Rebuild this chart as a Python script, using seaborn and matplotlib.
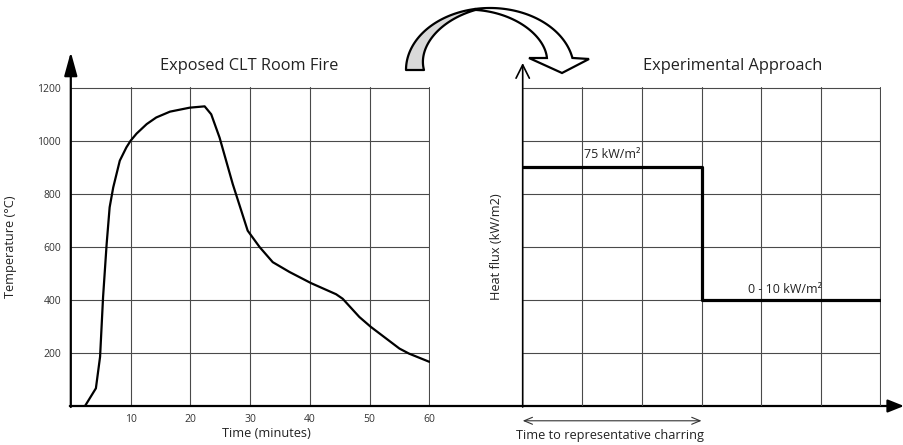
import numpy as np
import pandas as pd
import matplotlib
matplotlib.use("Agg")
import matplotlib.pyplot as plt
from matplotlib.patches import Polygon
import seaborn as sns

# ---------------- data ----------------
time_min = [2.4, 4.2, 4.9, 5.4, 6.0, 6.5, 7.1, 8.2, 9.3, 10.0, 11.0, 12.7, 14.3,
            16.6, 19.9, 22.4, 23.5, 24.9, 27.1, 29.6, 31.6, 33.8, 36.6, 40.2,
            44.4, 45.5, 48.3, 50.2, 55.0, 56.6, 60.0]
temp_c = [0, 66, 185, 410, 611, 749, 824, 925, 975, 1000, 1027, 1063, 1088,
          1110, 1125, 1130, 1100, 1012, 837, 661, 599, 542, 505, 463,
          421, 404, 335, 298, 216, 197, 166]

left_xticks = [10, 20, 30, 40, 50, 60]
left_yticks = [200, 400, 600, 800, 1000, 1200]

step_x = [0, 3, 6]          # grid units (time to charring, then after)
step_y = [4.5, 2.0, 2.0]    # grid units (heat flux level)
grid_units = [1, 2, 3, 4, 5, 6]

high_label = "75 kW/m²"
low_label = "0 - 10 kW/m²"

left_title = "Exposed CLT Room Fire"
right_title = "Experimental Approach"
left_xlabel = "Time (minutes)"
left_ylabel = "Temperature (°C)"
right_ylabel = "Heat flux (kW/m2)"
right_xnote = "Time to representative charring"

# ---------------- style ----------------
sns.set_theme(style="white")
plt.rcParams["font.family"] = ["Open Sans", "DejaVu Sans"]

W, H = 904, 445
fig = plt.figure(figsize=(W / 100, H / 100), dpi=100)

def frac(x0, y0, x1, y1):
    return [x0 / W, 1 - y1 / H, (x1 - x0) / W, (y1 - y0) / H]

axL = fig.add_axes(frac(70.8, 87, 430.2, 405.8))
axR = fig.add_axes(frac(522.7, 87, 881.2, 405.8))

grid_kw = dict(color="#4a4a4a", linewidth=0.8)

# ---- left panel ----
df = pd.DataFrame({"time": time_min, "temp": temp_c})
sns.lineplot(data=df, x="time", y="temp", ax=axL, color="black", linewidth=1.6,
             estimator=None, sort=False, zorder=3)
axL.set_xlim(0, 60.15)
axL.set_ylim(0, 1203)
axL.set_xticks(left_xticks)
axL.set_yticks(left_yticks)
axL.set_xticklabels([str(v) for v in left_xticks])
axL.set_yticklabels([str(v) for v in left_yticks])
axL.grid(True, **grid_kw)
axL.tick_params(axis="both", length=0, labelsize=7.5, labelcolor="#333333")
axL.tick_params(axis="y", pad=7)
axL.tick_params(axis="x", pad=6)
for s in axL.spines.values():
    s.set_visible(False)
axL.set_xlabel(left_xlabel, fontsize=9.2, color="#222222", labelpad=1)
axL.xaxis.set_label_coords(0.545, -0.065)
axL.set_ylabel(left_ylabel, fontsize=9.2, color="#222222")
axL.yaxis.set_label_coords(-0.15, 0.5)
axL.set_title(left_title, fontsize=11.8, color="#222222", pad=12, x=0.495)
axL.patch.set_alpha(0)

# ---- right panel ----
dfs = pd.DataFrame({"t": step_x, "q": step_y})
sns.lineplot(data=dfs, x="t", y="q", ax=axR, color="black", linewidth=2.3,
             drawstyle="steps-post", estimator=None, zorder=3)
axR.set_xlim(0, 6.015)
axR.set_ylim(0, 6.015)
axR.set_xticks(grid_units)
axR.set_yticks(grid_units)
axR.set_xticklabels([])
axR.set_yticklabels([])
axR.grid(True, **grid_kw)
axR.tick_params(axis="both", length=0)
for s in axR.spines.values():
    s.set_visible(False)
axR.set_xlabel("")
axR.set_ylabel(right_ylabel, fontsize=9.2, color="#222222")
axR.yaxis.set_label_coords(-0.055, 0.5)
axR.set_title(right_title, fontsize=11.8, color="#222222", pad=12, x=0.587)
axR.patch.set_alpha(0)

axR.text(1.03, step_y[0] + 0.25, high_label, fontsize=9, color="#222222",
         ha="left", va="center")
axR.text(5.02, step_y[1] + 0.2, low_label, fontsize=9, color="#222222",
         ha="right", va="center")

# double arrow under the right x axis
axR.annotate("", xy=(0, -0.047), xytext=(step_x[1], -0.047),
             xycoords=("data", "axes fraction"), textcoords=("data", "axes fraction"),
             arrowprops=dict(arrowstyle="<->,head_length=0.6,head_width=0.25",
                             color="#333333", lw=0.8, mutation_scale=10,
                             shrinkA=0, shrinkB=0), annotation_clip=False)
axR.text(1.46, -0.092, right_xnote, transform=axR.get_xaxis_transform(),
         fontsize=9.2, color="#222222", ha="center", va="center")

# ---- axis lines with arrows (figure pixels, y up) ----
def px(x, y):
    return (x, H - y)

axL.annotate("", xy=px(904, 406), xytext=px(69.8, 406),
             xycoords="figure pixels", textcoords="figure pixels",
             arrowprops=dict(arrowstyle="-|>,head_length=0.75,head_width=0.3",
                             color="black", lw=1.6, mutation_scale=13,
                             shrinkA=0, shrinkB=0), annotation_clip=False)
axL.annotate("", xy=px(70.8, 52), xytext=px(70.8, 407),
             xycoords="figure pixels", textcoords="figure pixels",
             arrowprops=dict(arrowstyle="-|>,head_length=0.8,head_width=0.22",
                             color="black", lw=1.6, mutation_scale=18,
                             shrinkA=0, shrinkB=0), annotation_clip=False)
axR.annotate("", xy=px(522.7, 63), xytext=px(522.7, 407),
             xycoords="figure pixels", textcoords="figure pixels",
             arrowprops=dict(arrowstyle="->,head_length=0.8,head_width=0.4",
                             color="black", lw=1.2, mutation_scale=12,
                             shrinkA=0, shrinkB=0), annotation_clip=False)

# ---- decorative twisted curved arrow ----
cx, cy, rx, ry = 490.0, 70.0, 84.0, 62.0

def outer(th):
    return cx + rx * np.cos(th), cy - ry * np.sin(th)

def inner(th, w):
    return cx + (rx - w) * np.cos(th), cy - (ry - w) * np.sin(th)

def to_fig(xs, ys):
    return np.column_stack([np.asarray(xs) / W, 1 - np.asarray(ys) / H])

th1 = np.radians(np.linspace(180, 100, 60))
w1 = np.linspace(18, 1, 60)
ox, oy = outer(th1)
ix, iy = inner(th1, w1)
gray_pts = to_fig(np.concatenate([ox, ix[::-1]]), np.concatenate([oy, iy[::-1]]))
fig.patches.append(Polygon(gray_pts, closed=True, transform=fig.transFigure,
                           facecolor="#d9d9d9", edgecolor="black", lw=1.6,
                           joinstyle="round", figure=fig))

th_o = np.radians(np.linspace(100, 11.2, 80))
ox2, oy2 = outer(th_o)
th_i = np.radians(np.linspace(18.4, 100, 80))
w2 = np.linspace(24, 1, 80)
ix2, iy2 = inner(th_i, w2)
head_x = [589, 562, 529]
head_y = [59, 73, 58]
xs = np.concatenate([ox2, head_x, ix2])
ys = np.concatenate([oy2, head_y, iy2])
fig.patches.append(Polygon(to_fig(xs, ys), closed=True, transform=fig.transFigure,
                           facecolor="white", edgecolor="black", lw=1.6,
                           joinstyle="miter", figure=fig))

fig.savefig("out.png", dpi=100, facecolor="white")
